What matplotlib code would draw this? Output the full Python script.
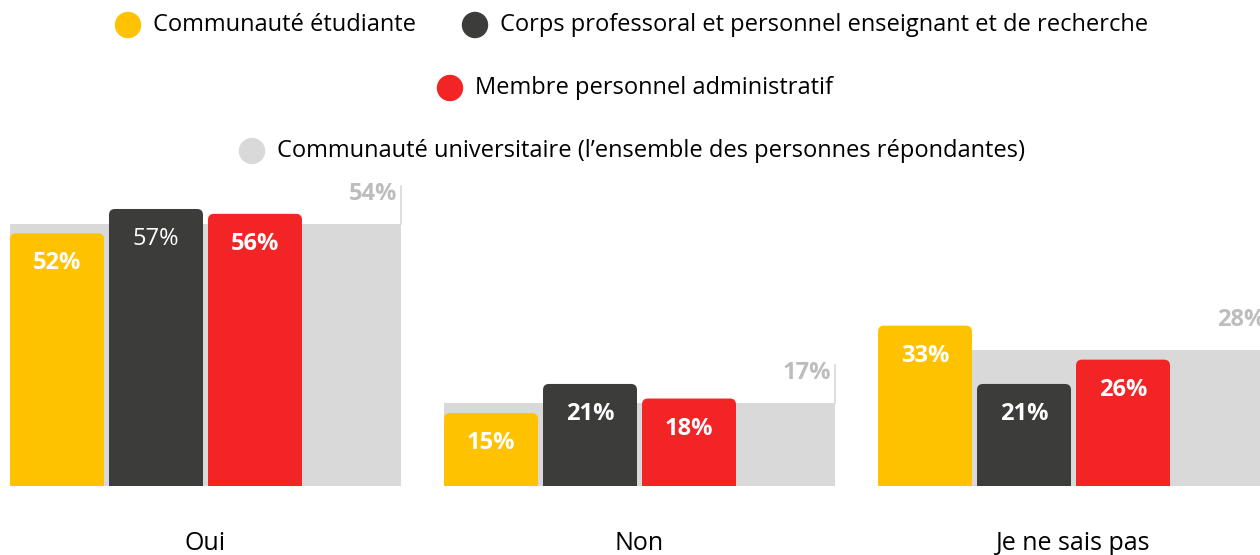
import matplotlib
matplotlib.use('Agg')
import matplotlib.pyplot as plt
from matplotlib.patches import FancyBboxPatch, Ellipse
import numpy as np

categories = ['Oui', 'Non', 'Je ne sais pas']
series_names = ['Communauté étudiante',
                'Corps professoral et personnel enseignant et de recherche',
                'Membre personnel administratif']
series_values = [[52, 15, 33],
                 [57, 21, 21],
                 [56, 18, 26]]
overall_name = 'Communauté universitaire (l’ensemble des personnes répondantes)'
overall_values = [54, 17, 28]

colors = ['#ffc200', '#3c3c3b', '#f22426']
grey = '#d9d9d9'
grey_text = '#bdbdbd'

plt.rcParams['font.family'] = ['Open Sans', 'DejaVu Sans']

W, H = 1260, 555
fig = plt.figure(figsize=(W / 100, H / 100), dpi=100)

# axes in pixel geometry: baseline at y=486, ~4.86 px per percent
px_per_pct = 4.86
ymax = 65
base = (H - 486) / H
ax = fig.add_axes([0, base, 1, ymax * px_per_pct / H])
group_px = 434
x0 = 205.5
ax.set_xlim(-x0 / group_px, (W - x0) / group_px)
ax.set_ylim(0, ymax)
ax.axis('off')

x = np.arange(len(categories))
grey_w = 391 / group_px
bar_w = 94 / group_px
step = 99 / group_px
xu = 1 / group_px          # x units per pixel
yu = 1 / px_per_pct        # y units per pixel

ax.bar(x, overall_values, width=grey_w, color=grey, zorder=1)
for xi, v in zip(x, overall_values):
    right = xi + grey_w / 2
    ax.plot([right, right], [v, v + 38 * yu], color=grey, lw=1.2, zorder=1)
    ax.text(right - 4 * xu, v + 30 * yu, f'{v}%', ha='right', va='center',
            color=grey_text, fontsize=17, fontweight='bold', clip_on=False)

first = -grey_w / 2 + bar_w / 2
for s, (vals, c) in enumerate(zip(series_values, colors)):
    bars = ax.bar(x + first + s * step, vals, width=bar_w, color=c)
    for r, v in zip(bars, vals):
        rx, rw, rh = r.get_x(), r.get_width(), r.get_height()
        r.remove()
        patch = FancyBboxPatch((rx, -2), rw, rh + 2,
                               boxstyle=f'round,pad=0,rounding_size={6 * xu}',
                               mutation_aspect=yu / xu, fc=c, ec='none', zorder=2)
        ax.add_patch(patch)
        weight = 'normal' if (s == 1 and v == 57) else 'bold'
        ax.text(rx + rw / 2, v - 30 * yu, f'{v}%', ha='center', va='center',
                color='white', fontsize=17, fontweight=weight, zorder=3)

for xi, cat in zip(x, categories):
    ax.text(xi, -57 * yu, cat, ha='center', va='center', fontsize=18, clip_on=False)

# legend rows, drawn by hand to keep the centred layout
legend = [(128, 25, colors[0], series_names[0]),
          (475, 25, colors[1], series_names[1]),
          (450, 88, colors[2], series_names[2]),
          (252, 151, grey, overall_name)]
for cx, cy, c, label in legend:
    fig.patches.append(Ellipse((cx / W, 1 - cy / H), 25 / W, 25 / H,
                               transform=fig.transFigure, color=c))
    fig.text((cx + 25) / W, 1 - cy / H, label, ha='left', va='center', fontsize=17)

fig.savefig('out.png', dpi=100)
